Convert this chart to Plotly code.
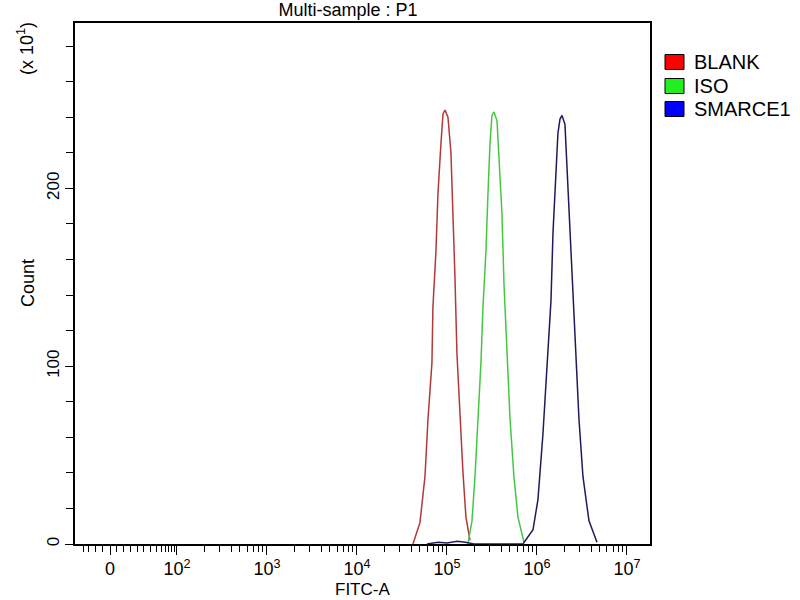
import plotly.graph_objects as go

# FITC-A intensity / count pairs
blank_x = [41900, 50100, 57000, 61500, 68100, 69800, 75500, 79400, 85700, 90400,
           95100, 102600, 110700, 116700, 122700, 129100, 139300, 150700, 162600, 180300]
blank_y = [0, 12, 38, 70, 102, 133, 165, 197, 225, 242,
           244, 240, 220, 188, 150, 107, 71, 40, 15, 2]

iso_x = [171000, 189700, 204800, 220900, 238600, 251200, 271200, 285500, 300600, 316200,
         332700, 359700, 378400, 408300, 429500, 464500, 501200, 554600, 615200, 717800]
iso_y = [0, 13, 38, 70, 102, 133, 165, 197, 225, 241,
         243, 238, 216, 186, 147, 107, 71, 38, 15, 1]

smarce1_x = [60000, 80000, 100000, 130000, 160000, 200000, 500000,
             698300, 903500, 1025600, 1166000, 1291000, 1432000, 1507000, 1626000, 1710000,
             1803000, 1897000, 2047000, 2153000, 2328000, 2512000, 2710000, 2931000,
             3243000, 3784000, 4645000]
smarce1_y = [0, 1, 0.5, 1.5, 1, 0, 0,
             0, 8, 25, 62, 100, 137, 175, 208, 231,
             239, 241, 236, 212, 178, 141, 103, 70,
             38, 13, 1]

names = ["BLANK", "ISO", "SMARCE1"]
line_colors = ["#b03a3a", "#44c844", "#1c1c5c"]
legend_colors = ["#ff0000", "#22ee22", "#0000ff"]

# x tick labels (biexponential-like display, "0" sits below 10^2)
tick_vals = [10 ** 1.256, 1e2, 1e3, 1e4, 1e5, 1e6, 1e7]
tick_text = ["0", "10<sup>2</sup>", "10<sup>3</sup>", "10<sup>4</sup>",
             "10<sup>5</sup>", "10<sup>6</sup>", "10<sup>7</sup>"]
low_minor = [0.956, 1.022, 1.1, 1.178, 1.333, 1.411, 1.489, 1.556, 1.633,
             1.711, 1.778, 1.833, 1.878, 1.911, 1.944, 1.978]
minor_vals = [10 ** u for u in low_minor]
minor_vals += [k * 10 ** n for n in range(2, 7) for k in range(2, 10)]

font = "Liberation Sans, Arial, sans-serif"

fig = go.Figure()
series = [(blank_x, blank_y), (iso_x, iso_y), (smarce1_x, smarce1_y)]
for (xs, ys), name, c in zip(series, names, line_colors):
    fig.add_trace(go.Scatter(x=xs, y=ys, mode="lines", name=name,
                             line=dict(color=c, width=1.5), showlegend=False))

fig.update_layout(
    width=800, height=600,
    margin=dict(l=75, r=150, t=23, b=56),
    paper_bgcolor="white", plot_bgcolor="white",
    font=dict(family=font, size=17, color="black"),
    title=dict(text="Multi-sample : P1", x=348 / 800, xanchor="center",
               y=1 - 9.5 / 600, yanchor="middle", font=dict(size=18)),
    showlegend=False,
)

fig.update_xaxes(
    type="log", range=[0.867, 7.256], automargin=False,
    tickmode="array", tickvals=tick_vals, ticktext=tick_text,
    ticks="outside", ticklen=9, tickwidth=1, tickcolor="black",
    ticklabelstandoff=-1, tickfont=dict(size=18),
    minor=dict(tickmode="array", tickvals=minor_vals, ticks="outside",
               ticklen=6, tickwidth=1, tickcolor="black", showgrid=False),
    showline=True, linecolor="black", linewidth=1.5, mirror=True,
    showgrid=False, zeroline=False,
)

fig.update_yaxes(
    range=[0, 293], automargin=False,
    tickmode="array", tickvals=[0, 100, 200], tickangle=-90,
    ticks="outside", ticklen=8, tickwidth=1, tickcolor="black",
    ticklabelstandoff=-1,
    minor=dict(tickmode="array", tickvals=[20, 40, 60, 80, 120, 140, 160, 180, 220, 240, 260, 280],
               ticks="outside", ticklen=7, tickwidth=1, tickcolor="black", showgrid=False),
    showline=True, linecolor="black", linewidth=1.5, mirror=True,
    showgrid=False, zeroline=False,
)

# axis titles and the y multiplier
fig.add_annotation(text="FITC-A", xref="paper", yref="paper",
                   x=(362 - 75) / 575, y=-(589 - 544) / 521, xanchor="center", yanchor="middle",
                   showarrow=False, font=dict(size=17))
fig.add_annotation(text="Count", xref="paper", yref="paper",
                   x=-(75 - 28) / 575, y=1 - (283 - 23) / 521, xanchor="center", yanchor="middle",
                   showarrow=False, textangle=-90, font=dict(size=18))
fig.add_annotation(text="(x 10<sup>1</sup>)", xref="paper", yref="paper",
                   x=-(75 - 25) / 575, y=1 - (49 - 23) / 521, xanchor="center", yanchor="middle",
                   showarrow=False, textangle=-90, font=dict(size=18))

# legend: coloured squares with labels
leg_y = [62, 86, 109]
for name, c, yc in zip(names, legend_colors, leg_y):
    yp = 1 - (yc - 23) / 521
    fig.add_shape(type="rect", xref="paper", yref="paper",
                  x0=(665 - 75) / 575, x1=(684 - 75) / 575,
                  y0=yp - 7.5 / 521, y1=yp + 7.5 / 521,
                  fillcolor=c, line=dict(color="black", width=1))
    fig.add_annotation(text=name, xref="paper", yref="paper",
                       x=(692 - 75) / 575, y=yp, xanchor="left", yanchor="middle",
                       showarrow=False, font=dict(size=20))

fig.write_html("out.html", config={"displayModeBar": False},
               post_script="document.body.style.margin='0';")
